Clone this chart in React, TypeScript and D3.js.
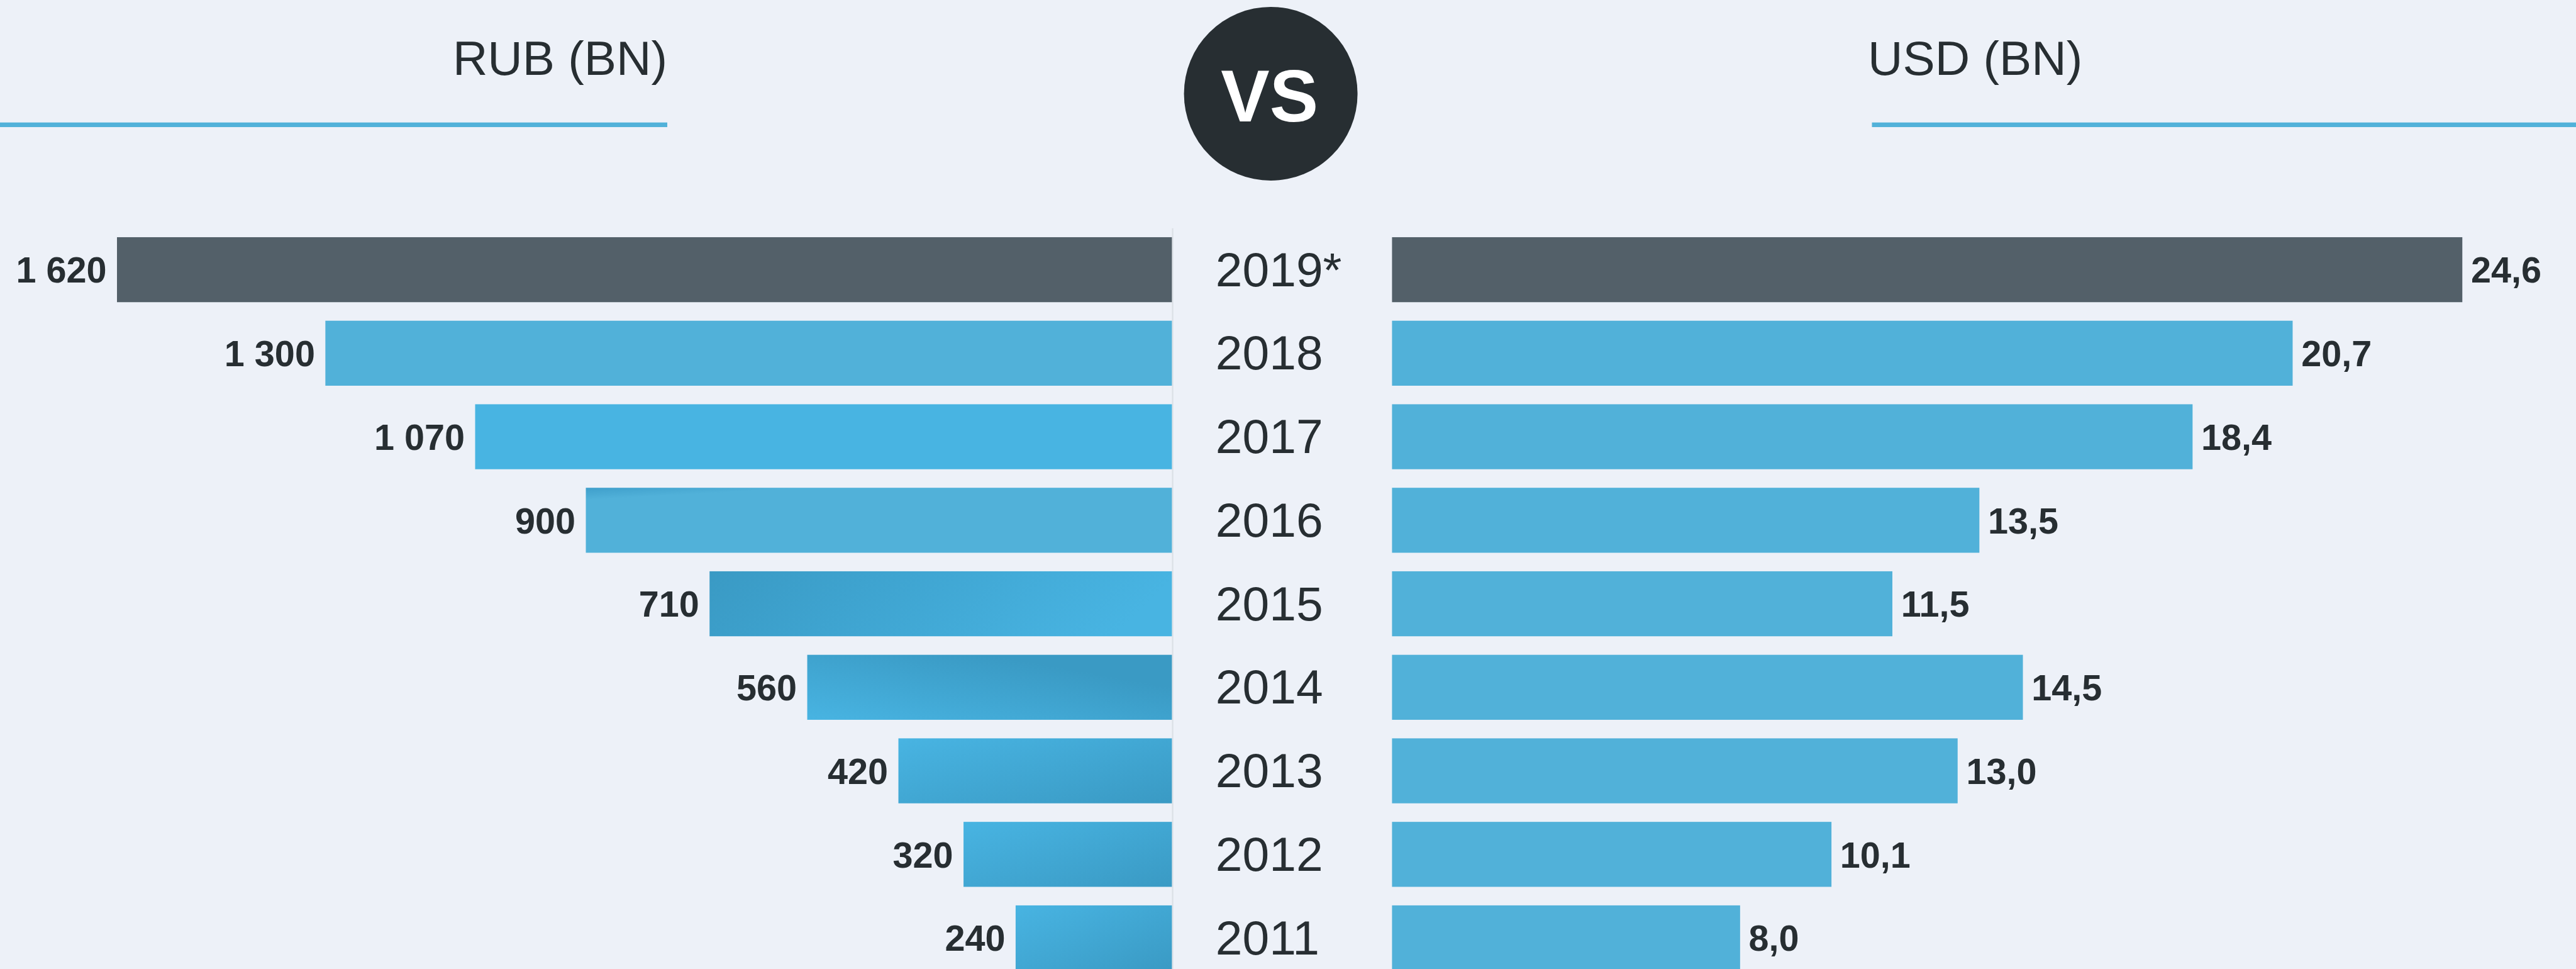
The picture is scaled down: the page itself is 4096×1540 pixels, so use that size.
import React from "react";
import * as d3 from "d3";

const years = ["2019*", "2018", "2017", "2016", "2015", "2014", "2013", "2012", "2011"];
const rubValues = [1620, 1300, 1070, 900, 710, 560, 420, 320, 240];
const rubLabels = ["1 620", "1 300", "1 070", "900", "710", "560", "420", "320", "240"];
const usdValues = [24.6, 20.7, 18.4, 13.5, 11.5, 14.5, 13.0, 10.1, 8.0];
const usdLabels = ["24,6", "20,7", "18,4", "13,5", "11,5", "14,5", "13,0", "10,1", "8,0"];
const leftTitle = "RUB (BN)";
const rightTitle = "USD (BN)";
const vsText = "VS";

// styles (kept apart from the data)
const leftFills = ["dark", "flat", "bright", "flat16", "g2015", "g2014", "gdiag", "gdiag", "gdiag"];

const REF_W = 4482;
const W = 4096;
const H = 1540;
const S = W / REF_W;

const BG = "#EDF1F8";
const BLUE = "#51B1D9";
const BRIGHT = "#48B4E2";
const DEEP = "#3A9AC4";
const DARK = "#536069";
const TEXT = "#272E32";
const FONT = "'Liberation Sans', Arial, Helvetica, sans-serif";

export default function App() {
  const centerLeft = 2039;
  const centerRight = 2422;

  const y = d3
    .scaleBand<string>()
    .domain(years)
    .range([412.5, 1687.5])
    .paddingInner(0.222)
    .paddingOuter(0);

  const xLeft = d3.scaleLinear().domain([0, 1620]).range([centerLeft, centerLeft - 1620 * 1.133]);
  const xRight = d3.scaleLinear().domain([0, 24.6]).range([centerRight, centerRight + 24.6 * 75.7]);

  const bw = y.bandwidth();

  const fillFor = (k: string) => {
    switch (k) {
      case "dark":
        return DARK;
      case "flat":
        return BLUE;
      case "bright":
        return BRIGHT;
      case "flat16":
        return "url(#g16)";
      case "g2015":
        return "url(#g15)";
      case "g2014":
        return "url(#g14)";
      case "gdiag":
        return "url(#gd)";
      default:
        return BLUE;
    }
  };

  return (
    <svg
      width={W}
      height={H}
      style={{ position: "absolute", left: 0, top: 0, display: "block" }}
    >
      <defs>
        <linearGradient id="g15" x1="0" y1="0" x2="1" y2="0.15">
          <stop offset="0" stopColor={DEEP} />
          <stop offset="0.35" stopColor="#3EA3CF" />
          <stop offset="1" stopColor={BRIGHT} />
        </linearGradient>
        <linearGradient id="g14" x1="0" y1="1" x2="1" y2="0">
          <stop offset="0" stopColor={BRIGHT} />
          <stop offset="0.75" stopColor={DEEP} />
          <stop offset="1" stopColor={DEEP} />
        </linearGradient>
        <linearGradient id="gd" x1="0" y1="0" x2="1" y2="1">
          <stop offset="0" stopColor={BRIGHT} />
          <stop offset="1" stopColor={DEEP} />
        </linearGradient>
        <linearGradient id="g16" x1="0" y1="0" x2="0.3" y2="0.6">
          <stop offset="0" stopColor="#3F9FCB" />
          <stop offset="0.25" stopColor={BLUE} />
          <stop offset="1" stopColor={BLUE} />
        </linearGradient>
      </defs>
      <rect x={0} y={0} width={W} height={H} fill={BG} />
      <g transform={`scale(${S})`}>
        {/* headers */}
        <text
          x={1161}
          y={130}
          textAnchor="end"
          fontFamily={FONT}
          fontSize={84}
          fill={TEXT}
        >
          {leftTitle}
        </text>
        <rect x={0} y={213} width={1161} height={8} fill={BLUE} />
        <text x={3250} y={130} fontFamily={FONT} fontSize={84} fill={TEXT}>
          {rightTitle}
        </text>
        <rect x={3257} y={213} width={REF_W - 3257} height={8} fill={BLUE} />

        {/* VS badge */}
        <circle cx={2211} cy={163} r={151} fill="#272E32" />
        <text
          x={2209}
          y={211}
          textAnchor="middle"
          fontFamily={FONT}
          fontWeight="bold"
          fontSize={127}
          fill="#FFFFFF"
        >
          {vsText}
        </text>

        {/* center divider */}
        <rect x={centerLeft} y={397} width={2.5} height={1400} fill="#DCE0E6" />

        {years.map((yr, i) => {
          const top = y(yr) as number;
          const mid = top + bw / 2;
          const lx = xLeft(rubValues[i]);
          const rx = xRight(usdValues[i]);
          return (
            <g key={yr}>
              <rect
                x={lx}
                y={top}
                width={centerLeft - lx}
                height={bw}
                fill={fillFor(leftFills[i])}
              />
              <text
                x={lx - 18}
                y={mid}
                dy="0.36em"
                textAnchor="end"
                fontFamily={FONT}
                fontWeight="bold"
                fontSize={63}
                fill={TEXT}
              >
                {rubLabels[i]}
              </text>
              <text
                x={2115}
                y={mid}
                dy="0.34em"
                fontFamily={FONT}
                fontSize={84}
                fill={TEXT}
              >
                {yr}
              </text>
              <rect
                x={centerRight}
                y={top}
                width={rx - centerRight}
                height={bw}
                fill={i === 0 ? DARK : BLUE}
              />
              <text
                x={rx + 15}
                y={mid}
                dy="0.36em"
                fontFamily={FONT}
                fontWeight="bold"
                fontSize={63}
                fill={TEXT}
              >
                {usdLabels[i]}
              </text>
            </g>
          );
        })}
      </g>
    </svg>
  );
}
